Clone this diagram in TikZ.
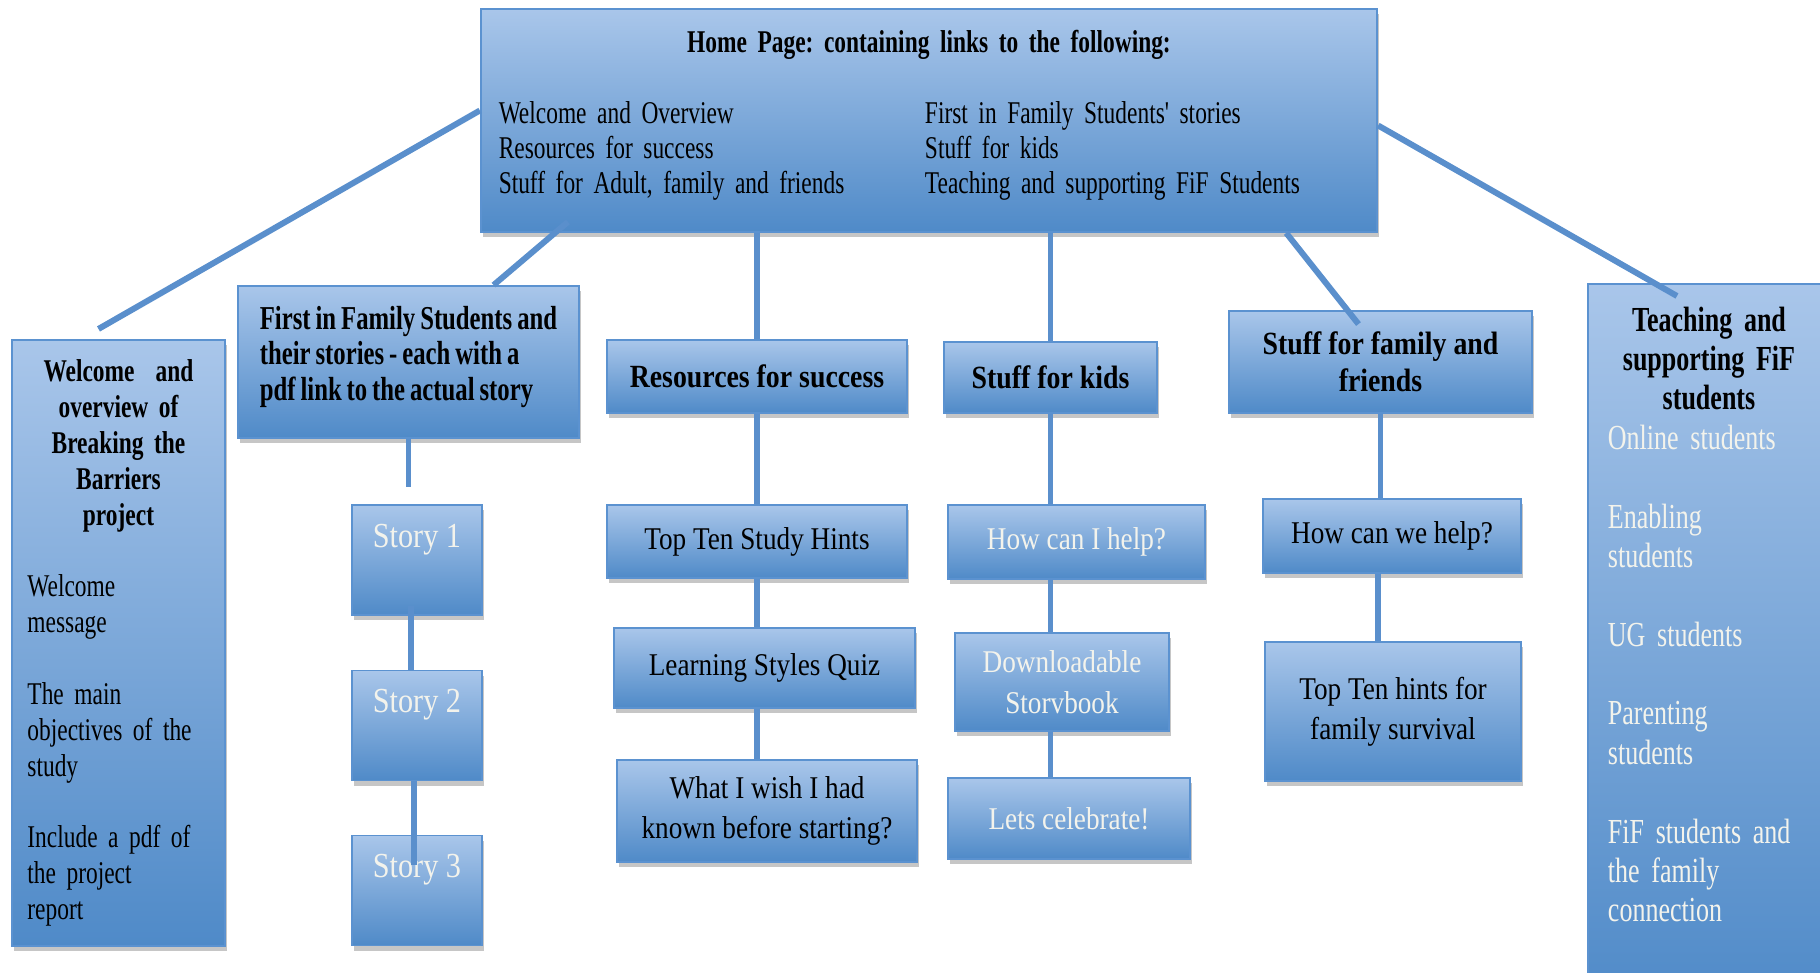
\documentclass[tikz,border=0pt]{standalone}
\usepackage{fontspec}
\setmainfont{Liberation Serif}[FakeStretch=0.86]
\newfontfamily\narrowfont{Liberation Serif}[FakeStretch=0.74, WordSpace=0.8]
\usepackage{tikz}
\usetikzlibrary{shapes.geometric, arrows, positioning, shadows}

\definecolor{boxtop}{HTML}{A9C6EA}
\definecolor{boxbottom}{HTML}{4F8AC8}
\definecolor{boxedge}{HTML}{5B92D0}
\definecolor{linkblue}{HTML}{5A8FCC}
\definecolor{paper}{HTML}{F3F3EC}
\newcommand{\boxfont}{\fontsize{9}{11.5}\selectfont}
\frenchspacing

\begin{document}
\begin{tikzpicture}[x=0.01cm, y=-0.01cm, font=\boxfont]
        \tikzstyle{page} = [rectangle, draw=boxedge, line width=0.5pt, top color=boxtop, bottom color=boxbottom, drop shadow={shadow xshift=0.6pt, shadow yshift=-1.5pt, opacity=0.45}, align=center, inner sep=2pt]
        \tikzstyle{head} = [page, font=\fontsize{9.2}{10.4}\selectfont\bfseries]
        \tikzstyle{light} = [page, text=paper]
        \tikzstyle{story} = [light, minimum width=1.3cm, minimum height=1.1cm, text height=0.25cm, text depth=0.5cm, font=\fontsize{10}{12}\selectfont]
        \tikzstyle{link} = [draw=linkblue, line width=1.7pt]
        \useasboundingbox (0,0) rectangle (1820,973);

        \node (home) [page, minimum width=8.96cm, minimum height=2.23cm, text width=8.6cm, align=left, font=\narrowfont\fontsize{9}{10}\selectfont] at (929,120.5) {
            {\centering\bfseries Home Page: containing links to the following:\par}
            \vspace{10pt}
            \makebox[4.26cm][l]{Welcome and Overview}First in Family Students' stories \\
            \makebox[4.26cm][l]{Resources for success}Stuff for kids \\
            \makebox[4.26cm][l]{Stuff for Adult, family and friends}Teaching and supporting FiF Students
            \vspace{0.1cm}
        };
        \node (welcome) [page, minimum width=2.13cm, minimum height=6.06cm, text width=1.82cm, align=left, font=\narrowfont\fontsize{9}{10.2}\selectfont] at (118.5,643) {
            {\centering\bfseries Welcome \ and \\ overview of \\ Breaking the \\ Barriers \\ project\par}
            \vspace{\baselineskip}
            Welcome \\ message\par
            \vspace{\baselineskip}
            The main \\ objectives of the \\ study\par
            \vspace{\baselineskip}
            Include a pdf of \\ the project \\ report
        };
        \node (fif) [head, minimum width=3.41cm, minimum height=1.52cm, align=left, font=\narrowfont\fontsize{9.5}{10.2}\selectfont\bfseries] at (408.5,362) {
            First in Family Students and \\
            their stories - each with a \\
            pdf link to the actual story
            \vspace{0.1cm}
        };
        \node (story1) [story] at (417,560) {Story 1};
        \node (story2) [story] at (417,725.5) {Story 2};
        \node (story3) [story] at (417,890.5) {Story 3};

        \node (resources) [head, minimum width=3cm, minimum height=0.73cm] at (757,376.5) {Resources for success};
        \node (topten) [page, minimum width=3cm, minimum height=0.73cm] at (757,541.5) {Top Ten Study Hints};
        \node (quiz) [page, minimum width=3.01cm, minimum height=0.8cm] at (764.5,668) {Learning Styles Quiz};
        \node (wish) [page, minimum width=3cm, minimum height=1.02cm] at (767,811) {What I wish I had \\ known before starting?};

        \node (kids) [head, minimum width=2.13cm, minimum height=0.71cm] at (1050.5,377.5) {Stuff for kids};
        \node (helpkids) [light, minimum width=2.57cm, minimum height=0.74cm] at (1076.5,542) {How can I help?};
        \node (storybook) [light, minimum width=2.14cm, minimum height=0.98cm] at (1062,682) {Downloadable \\ Storvbook};
        \node (celebrate) [light, minimum width=2.42cm, minimum height=0.81cm] at (1069,818.5) {Lets celebrate!};

        \node (family) [head, minimum width=3.03cm, minimum height=1.02cm] at (1380.5,362) {Stuff for family and \\ friends};
        \node (helpfamily) [page, minimum width=2.58cm, minimum height=0.74cm] at (1392,536) {How can we help?};
        \node (survival) [page, minimum width=2.56cm, minimum height=1.39cm] at (1393,711.5) {Top Ten hints for \\ family survival};

        \node (teaching) [page, anchor=north, minimum width=2.42cm, text width=2.02cm, align=left, inner ysep=6.5pt, font=\narrowfont\fontsize{10}{11.2}\selectfont] at (1709,283) {
            {\centering\bfseries Teaching and \\ supporting FiF \\ students\par}
            \color{paper}
            Online students\par
            \vspace{\baselineskip}
            Enabling \\ students\par
            \vspace{\baselineskip}
            UG students\par
            \vspace{\baselineskip}
            Parenting \\ students\par
            \vspace{\baselineskip}
            FiF students and \\ the family \\ connection\par
            \vspace{0.6cm}
        };

        \draw[link] ([yshift=0.1cm]home.west) -- ([xshift=-0.2cm, yshift=0.1cm]welcome.north);
        \draw[link] ([xshift=0.88cm, yshift=0.11cm]home.south west) -- ([xshift=0.85cm]fif.north);
        \draw[link] (home.south -| resources.north) -- (resources.north);
        \draw[link] (home.south -| kids.north) -- (kids.north);
        \draw[link] ([xshift=3.57cm]home.south) -- ([xshift=-0.22cm, yshift=-0.14cm]family.north);
        \draw[link] ([yshift=-0.05cm]home.east) -- ([xshift=-0.32cm, yshift=-0.13cm]teaching.north);

        \draw[link] (fif.south) -- ([yshift=0.17cm]fif.south |- story1.north);
        \draw[link] ([xshift=-0.06cm, yshift=0.1cm]story1.south) -- ([xshift=-0.06cm]story2.north);
        \draw[link] ([xshift=-0.03cm]story2.south) -- ([xshift=-0.03cm, yshift=-0.3cm]story3.north);

        \draw[link] (resources.south) -- (resources.south |- topten.north);
        \draw[link] (topten.south) -- (topten.south |- quiz.north);
        \draw[link] (topten.south |- quiz.south) -- (topten.south |- wish.north);

        \draw[link] (kids.south) -- (kids.south |- helpkids.north);
        \draw[link] (kids.south |- helpkids.south) -- (kids.south |- storybook.north);
        \draw[link] (kids.south |- storybook.south) -- (kids.south |- celebrate.north);

        \draw[link] (family.south) -- (family.south |- helpfamily.north);
        \draw[link] ([xshift=-0.14cm]helpfamily.south) -- ([xshift=-0.14cm]helpfamily.south |- survival.north);
\end{tikzpicture}
\end{document}
